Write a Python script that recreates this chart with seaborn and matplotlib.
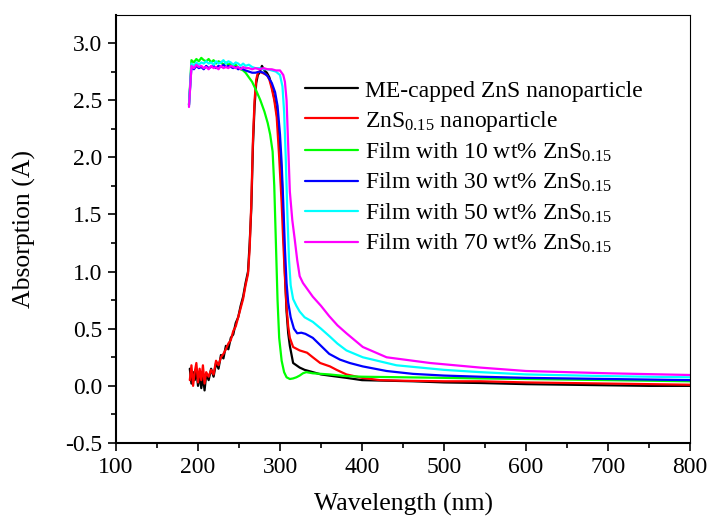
import matplotlib
matplotlib.use('Agg')
import matplotlib.pyplot as plt
from matplotlib.ticker import MultipleLocator, FormatStrFormatter
import pandas as pd
import seaborn as sns

# absorption spectra
wl_me = [190, 192, 194, 196, 198, 200, 202, 204, 206, 208, 210, 213, 216, 219, 222, 225, 228, 231,
         234, 237, 240, 243, 246, 249, 252, 255, 258, 261, 263, 265, 267, 269, 271, 273, 275, 278,
         281, 284, 287, 290, 293, 296, 299, 302, 304, 306, 308, 310, 312, 316, 320, 324, 330, 340,
         350, 360, 381, 400, 462, 500, 544, 600, 650, 700, 750, 800]
abs_me = [0.15, 0.02, 0.12, 0.05, 0.14, 0.00, 0.10, -0.02, 0.08, -0.04, 0.10, 0.05, 0.15, 0.08,
          0.20, 0.15, 0.27, 0.24, 0.35, 0.32, 0.42, 0.45, 0.55, 0.60, 0.70, 0.78, 0.90, 1.00, 1.25,
          1.55, 2.10, 2.45, 2.65, 2.72, 2.74, 2.80, 2.76, 2.74, 2.70, 2.62, 2.52, 2.40, 2.15, 1.86,
          1.45, 0.99, 0.65, 0.46, 0.35, 0.20, 0.18, 0.16, 0.14, 0.12, 0.10, 0.09, 0.07, 0.05, 0.04,
          0.03, 0.025, 0.015, 0.01, 0.005, 0.0, 0.0]

wl_np = [190, 192, 194, 196, 198, 200, 202, 204, 206, 208, 210, 213, 216, 219, 222, 225, 228, 231,
         234, 237, 240, 243, 246, 249, 252, 255, 258, 261, 263, 265, 267, 269, 271, 273, 275, 278,
         281, 284, 287, 290, 293, 296, 299, 302, 304, 306, 308, 310, 312, 316, 324, 333, 340, 349,
         361, 369, 381, 400, 422, 450, 500, 544, 600, 650, 700, 750, 800]
abs_np = [0.05, 0.18, 0.00, 0.12, 0.20, 0.03, 0.15, 0.05, 0.18, 0.02, 0.12, 0.08, 0.14, 0.10,
          0.22, 0.18, 0.25, 0.28, 0.32, 0.37, 0.40, 0.48, 0.52, 0.60, 0.68, 0.76, 0.88, 0.98, 1.20,
          1.60, 2.15, 2.50, 2.68, 2.74, 2.75, 2.74, 2.73, 2.72, 2.68, 2.60, 2.50, 2.35, 2.00, 1.60,
          1.25, 0.95, 0.69, 0.52, 0.42, 0.34, 0.31, 0.29, 0.25, 0.20, 0.17, 0.14, 0.10, 0.07, 0.05,
          0.045, 0.04, 0.04, 0.03, 0.025, 0.02, 0.015, 0.01]

wl_film = [189, 192, 195, 198, 201, 204, 207, 210, 213, 216, 219, 222, 225, 228, 231, 234, 237,
           240, 243, 246, 249, 252, 255, 258]
plat_10 = [2.46, 2.85, 2.83, 2.86, 2.84, 2.87, 2.85, 2.84, 2.86, 2.83, 2.85, 2.82, 2.84, 2.83,
           2.81, 2.83, 2.81, 2.82, 2.80, 2.81, 2.78, 2.77, 2.76, 2.74]
plat_30 = [2.46, 2.79, 2.77, 2.80, 2.78, 2.79, 2.77, 2.80, 2.78, 2.79, 2.80, 2.78, 2.80, 2.79,
           2.81, 2.79, 2.80, 2.79, 2.78, 2.79, 2.77, 2.78, 2.77, 2.76]
plat_50 = [2.45, 2.82, 2.80, 2.83, 2.81, 2.83, 2.82, 2.84, 2.82, 2.83, 2.81, 2.84, 2.82, 2.83,
           2.85, 2.82, 2.84, 2.83, 2.81, 2.83, 2.82, 2.80, 2.82, 2.80]
plat_70 = [2.44, 2.80, 2.78, 2.81, 2.79, 2.80, 2.78, 2.79, 2.77, 2.80, 2.78, 2.79, 2.77, 2.80,
           2.78, 2.79, 2.78, 2.80, 2.79, 2.78, 2.79, 2.77, 2.79, 2.78]

wl_10 = [262, 266, 270, 276, 281, 285, 288, 291, 293, 295, 297, 299, 302, 305, 308, 312, 316, 320,
         324, 328, 332, 340, 360, 381, 400, 450, 500, 544, 600, 700, 800]
tail_10 = [2.70, 2.66, 2.60, 2.50, 2.40, 2.30, 2.20, 2.05, 1.75, 1.25, 0.75, 0.42, 0.22, 0.12,
           0.075, 0.06, 0.065, 0.075, 0.09, 0.11, 0.12, 0.11, 0.10, 0.085, 0.08, 0.075, 0.07,
           0.065, 0.06, 0.05, 0.04]

wl_30 = [262, 266, 270, 275, 280, 285, 290, 294, 297, 300, 302, 304, 306, 308, 310, 313, 317, 321,
         326, 331, 340, 350, 360, 373, 385, 401, 430, 462, 500, 544, 600, 700, 800]
tail_30 = [2.75, 2.74, 2.74, 2.75, 2.74, 2.71, 2.65, 2.57, 2.45, 2.20, 1.95, 1.60, 1.20, 0.90,
           0.73, 0.60, 0.50, 0.46, 0.465, 0.455, 0.42, 0.35, 0.28, 0.23, 0.20, 0.17, 0.13, 0.105,
           0.09, 0.08, 0.07, 0.06, 0.05]

wl_50 = [262, 266, 270, 275, 280, 285, 290, 295, 300, 303, 305, 307, 309, 311, 313, 316, 320, 324,
         330, 340, 350, 361, 370, 381, 401, 442, 500, 544, 600, 700, 800]
tail_50 = [2.81, 2.79, 2.78, 2.78, 2.77, 2.77, 2.76, 2.75, 2.72, 2.62, 2.40, 2.00, 1.50, 1.10,
           0.88, 0.76, 0.70, 0.65, 0.60, 0.56, 0.50, 0.43, 0.37, 0.31, 0.25, 0.18, 0.14, 0.12,
           0.10, 0.085, 0.075]

wl_70 = [262, 266, 270, 275, 280, 285, 290, 295, 300, 304, 306, 308, 310, 312, 315, 318, 321, 324,
         328, 333, 340, 350, 360, 370, 381, 401, 430, 483, 544, 600, 700, 800]
tail_70 = [2.78, 2.77, 2.78, 2.77, 2.78, 2.77, 2.77, 2.76, 2.76, 2.72, 2.66, 2.50, 2.10, 1.70,
           1.45, 1.28, 1.10, 0.96, 0.90, 0.85, 0.78, 0.70, 0.61, 0.53, 0.46, 0.34, 0.25, 0.20,
           0.16, 0.13, 0.11, 0.095]

labels = ['ME-capped ZnS nanoparticle',
          r'ZnS$_{0.15}$ nanoparticle',
          r'Film with 10 wt% ZnS$_{0.15}$',
          r'Film with 30 wt% ZnS$_{0.15}$',
          r'Film with 50 wt% ZnS$_{0.15}$',
          r'Film with 70 wt% ZnS$_{0.15}$']
colors = ['#000000', '#ff0000', '#00ff00', '#0000ff', '#00ffff', '#ff00ff']

series = [(wl_me, abs_me),
          (wl_np, abs_np),
          (wl_film + wl_10, plat_10 + tail_10),
          (wl_film + wl_30, plat_30 + tail_30),
          (wl_film + wl_50, plat_50 + tail_50),
          (wl_film + wl_70, plat_70 + tail_70)]

frames = []
for lab, (x, y) in zip(labels, series):
    frames.append(pd.DataFrame({'wavelength': x, 'absorption': y, 'sample': lab}))
df = pd.concat(frames, ignore_index=True)

sns.set_style('ticks')
plt.rcParams['font.family'] = ['Liberation Serif', 'DejaVu Serif']
plt.rcParams['mathtext.fontset'] = 'custom'
plt.rcParams['mathtext.rm'] = 'Liberation Serif'
plt.rcParams['mathtext.it'] = 'Liberation Serif'
plt.rcParams['axes.unicode_minus'] = False
# seaborn greys -> plain black like the original figure
plt.rcParams['text.color'] = 'black'
plt.rcParams['axes.labelcolor'] = 'black'
plt.rcParams['axes.edgecolor'] = 'black'
plt.rcParams['xtick.color'] = 'black'
plt.rcParams['ytick.color'] = 'black'

fig, ax = plt.subplots(figsize=(7.1, 5.18), dpi=100)
fig.subplots_adjust(left=116 / 710, right=690 / 710, top=1 - 15 / 518, bottom=1 - 443 / 518)

sns.lineplot(data=df, x='wavelength', y='absorption', hue='sample', hue_order=labels,
             palette=dict(zip(labels, colors)), estimator=None, sort=False, linewidth=1.6, ax=ax)

ax.set_xlim(100, 800)
ax.set_ylim(-0.5, 3.245)
ax.xaxis.set_major_locator(MultipleLocator(100))
ax.xaxis.set_minor_locator(MultipleLocator(50))
ax.yaxis.set_major_locator(MultipleLocator(0.5))
ax.yaxis.set_minor_locator(MultipleLocator(0.25))
ax.yaxis.set_major_formatter(FormatStrFormatter('%.1f'))
ax.tick_params(which='major', direction='out', length=6, width=1.2, labelsize=17, pad=4)
ax.tick_params(which='minor', direction='out', length=3.5, width=1.2)
for side in ['left', 'bottom']:
    ax.spines[side].set_linewidth(1.5)
for side in ['top', 'right']:
    ax.spines[side].set_linewidth(0.8)
    ax.spines[side].set_visible(True)

ax.set_xlabel('Wavelength (nm)', fontsize=18.5, labelpad=11)
ax.set_ylabel('Absorption (A)', fontsize=18.5, labelpad=21)

handles, _ = ax.get_legend_handles_labels()
ax.legend(handles, labels, loc='upper left', bbox_to_anchor=(0.329, 0.848), frameon=False,
          fontsize=17, handlelength=2.25, handletextpad=0.3, borderpad=0, borderaxespad=0,
          labelspacing=0.3)

fig.savefig('out.png', dpi=100)
